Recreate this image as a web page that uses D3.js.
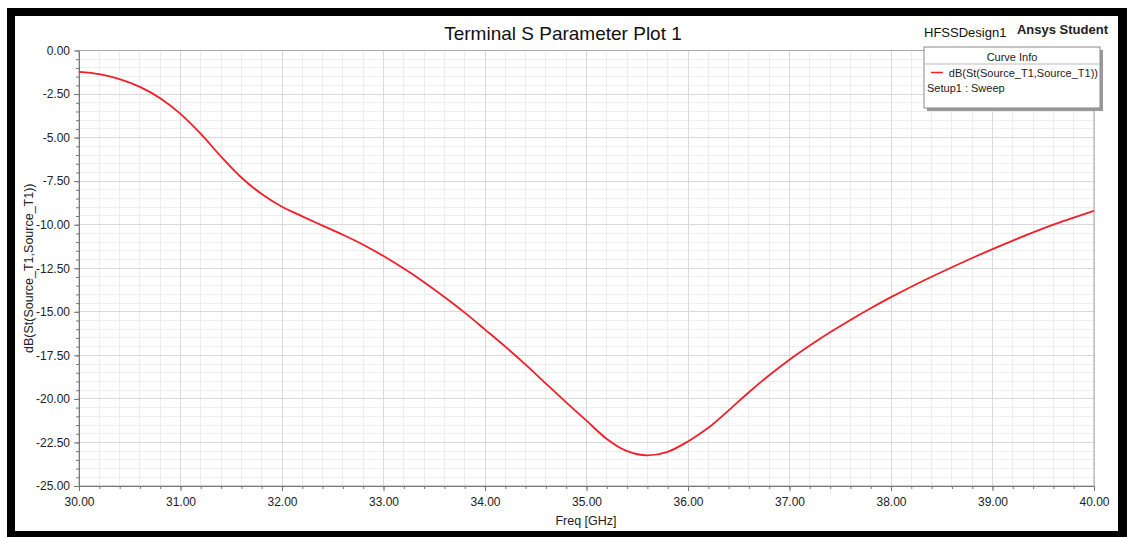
<!DOCTYPE html>
<html>
<head>
<meta charset="utf-8">
<script src="https://cdn.jsdelivr.net/npm/d3@7"></script>
<style>
  html, body { margin: 0; padding: 0; background: #fff; }
  svg { display: block; font-family: "Liberation Sans", Arial, sans-serif; }
</style>
</head>
<body>
<svg id="chart" width="1127" height="537"></svg>
<script>
// Return loss of the terminal port, dB(St(Source_T1,Source_T1)), versus frequency
const freqGHz = [30.0, 30.2, 30.4, 30.6, 30.8, 31.0, 31.2, 31.4, 31.6, 31.8,
                 32.0, 32.2, 32.4, 32.6, 32.8, 33.0, 33.2, 33.4, 33.6, 33.8,
                 34.0, 34.2, 34.4, 34.6, 34.8, 35.0, 35.2, 35.4, 35.6, 35.8,
                 36.0, 36.2, 36.4, 36.6, 36.8, 37.0, 37.2, 37.4, 37.6, 37.8,
                 38.0, 38.2, 38.4, 38.6, 38.8, 39.0, 39.2, 39.4, 39.6, 39.8, 40.0];
const s11dB = [-1.23, -1.36, -1.64, -2.09, -2.74, -3.64, -4.79, -6.09, -7.29, -8.24,
               -8.97, -9.52, -10.05, -10.58, -11.15, -11.80, -12.52, -13.30, -14.15, -15.05,
               -16.02, -17.00, -18.03, -19.12, -20.20, -21.25, -22.30, -23.00, -23.24, -23.04,
               -22.44, -21.66, -20.66, -19.62, -18.64, -17.75, -16.94, -16.18, -15.47, -14.80,
               -14.16, -13.56, -12.99, -12.44, -11.91, -11.40, -10.91, -10.44, -10.00, -9.59, -9.20];

const xTicks = [30, 31, 32, 33, 34, 35, 36, 37, 38, 39, 40];
const yTicks = [0, -2.5, -5, -7.5, -10, -12.5, -15, -17.5, -20, -22.5, -25];
const xMinorTicks = d3.range(0, 51).map(i => 30 + i * 0.2);
const yMinorTicks = d3.range(0, 51).map(i => -i * 0.5);

const titleText = "Terminal S Parameter Plot 1";
const designText = "HFSSDesign1";
const brandText = "Ansys Student";
const legendTitle = "Curve Info";
const curveName = "dB(St(Source_T1,Source_T1))";
const sweepName = "Setup1 : Sweep";
const xLabel = "Freq [GHz]";
const yLabel = "dB(St(Source_T1,Source_T1))";

const svg = d3.select("#chart");
const fmt = d => d.toFixed(2);

// page frame
svg.append("rect").attr("x", 7).attr("y", 8).attr("width", 1120).attr("height", 529).attr("fill", "#000");
svg.append("rect").attr("x", 15).attr("y", 16).attr("width", 1103).attr("height", 515).attr("fill", "#fff");

const x = d3.scaleLinear().domain([30, 40]).range([79, 1094]);
const y = d3.scaleLinear().domain([-25, 0]).range([486, 50.5]);
const [x0, x1] = x.range();
const [y0, y1] = y.range();

// grid: minor then major
const grid = svg.append("g").attr("shape-rendering", "crispEdges");
grid.selectAll("line.vmin").data(xMinorTicks).join("line")
  .attr("x1", d => x(d)).attr("x2", d => x(d)).attr("y1", y1).attr("y2", y0)
  .attr("stroke", "#eeeeee").attr("stroke-width", 1);
grid.selectAll("line.hmin").data(yMinorTicks).join("line")
  .attr("x1", x0).attr("x2", x1).attr("y1", d => y(d)).attr("y2", d => y(d))
  .attr("stroke", "#eeeeee").attr("stroke-width", 1);
grid.selectAll("line.vmaj").data(xTicks).join("line")
  .attr("x1", d => x(d)).attr("x2", d => x(d)).attr("y1", y1).attr("y2", y0)
  .attr("stroke", "#d9d9d9").attr("stroke-width", 1);
grid.selectAll("line.hmaj").data(yTicks).join("line")
  .attr("x1", x0).attr("x2", x1).attr("y1", d => y(d)).attr("y2", d => y(d))
  .attr("stroke", "#d9d9d9").attr("stroke-width", 1);

// plot frame
svg.append("rect").attr("x", x0).attr("y", y1).attr("width", x1 - x0).attr("height", y0 - y1)
  .attr("fill", "none").attr("stroke", "#a8a8a8").attr("stroke-width", 1);

// axes
function styleAxis(g) {
  g.selectAll(".domain").attr("stroke", "#777");
  g.selectAll(".tick line").attr("stroke", "#777");
  g.selectAll(".tick text").attr("fill", "#222").style("font-size", "12px")
    .style("font-family", "'Liberation Sans', Arial, sans-serif");
}
svg.append("g").attr("transform", `translate(0,${y0})`)
  .call(d3.axisBottom(x).tickValues(xMinorTicks).tickSize(3).tickFormat("").tickSizeOuter(0))
  .call(styleAxis);
svg.append("g").attr("transform", `translate(${x0},0)`)
  .call(d3.axisLeft(y).tickValues(yMinorTicks).tickSize(3).tickFormat("").tickSizeOuter(0))
  .call(styleAxis);
svg.append("g").attr("transform", `translate(0,${y0})`)
  .call(d3.axisBottom(x).tickValues(xTicks).tickSize(5).tickPadding(6).tickFormat(fmt).tickSizeOuter(0))
  .call(styleAxis);
svg.append("g").attr("transform", `translate(${x0},0)`)
  .call(d3.axisLeft(y).tickValues(yTicks).tickSize(5).tickPadding(4).tickFormat(fmt).tickSizeOuter(0))
  .call(styleAxis);

// curve
const pts = freqGHz.map((f, i) => [f, s11dB[i]]);
svg.append("path").datum(pts)
  .attr("fill", "none").attr("stroke", "#f41e28").attr("stroke-width", 1.8)
  .attr("d", d3.line().x(d => x(d[0])).y(d => y(d[1])).curve(d3.curveMonotoneX));

// titles
svg.append("text").attr("x", 563).attr("y", 40).attr("text-anchor", "middle")
  .style("font-size", "19px").attr("fill", "#111").text(titleText);
svg.append("text").attr("x", 924).attr("y", 37).style("font-size", "13px").attr("fill", "#111").text(designText);
svg.append("text").attr("x", 1108).attr("y", 34).attr("text-anchor", "end")
  .style("font-size", "13px").style("font-weight", "bold").attr("fill", "#222").text(brandText);

// axis labels
svg.append("text").attr("x", 586).attr("y", 525).attr("text-anchor", "middle")
  .style("font-size", "12.5px").attr("fill", "#222").text(xLabel);
svg.append("text").attr("transform", `translate(33,${(y0 + y1) / 2}) rotate(-90)`)
  .attr("text-anchor", "middle").style("font-size", "12.5px").attr("fill", "#222").text(yLabel);

// legend
const lg = svg.append("g").attr("transform", "translate(924,47)");
lg.append("rect").attr("x", 3).attr("y", 3).attr("width", 176).attr("height", 61).attr("fill", "#9a9a9a");
lg.append("rect").attr("x", 0).attr("y", 0).attr("width", 176).attr("height", 61)
  .attr("fill", "#fff").attr("stroke", "#8a8a8a").attr("stroke-width", 1);
lg.append("text").attr("x", 88).attr("y", 14).attr("text-anchor", "middle")
  .style("font-size", "11px").attr("fill", "#222").text(legendTitle);
lg.append("line").attr("x1", 0).attr("x2", 176).attr("y1", 17).attr("y2", 17)
  .attr("stroke", "#bbb").attr("stroke-width", 1);
lg.append("line").attr("x1", 7).attr("x2", 19).attr("y1", 25.5).attr("y2", 25.5)
  .attr("stroke", "#f41e28").attr("stroke-width", 1.5);
lg.append("text").attr("x", 174).attr("y", 30).attr("text-anchor", "end")
  .style("font-size", "11px").attr("fill", "#222").text(curveName);
lg.append("text").attr("x", 3).attr("y", 45).style("font-size", "11px").attr("fill", "#222").text(sweepName);
</script>
</body>
</html>
